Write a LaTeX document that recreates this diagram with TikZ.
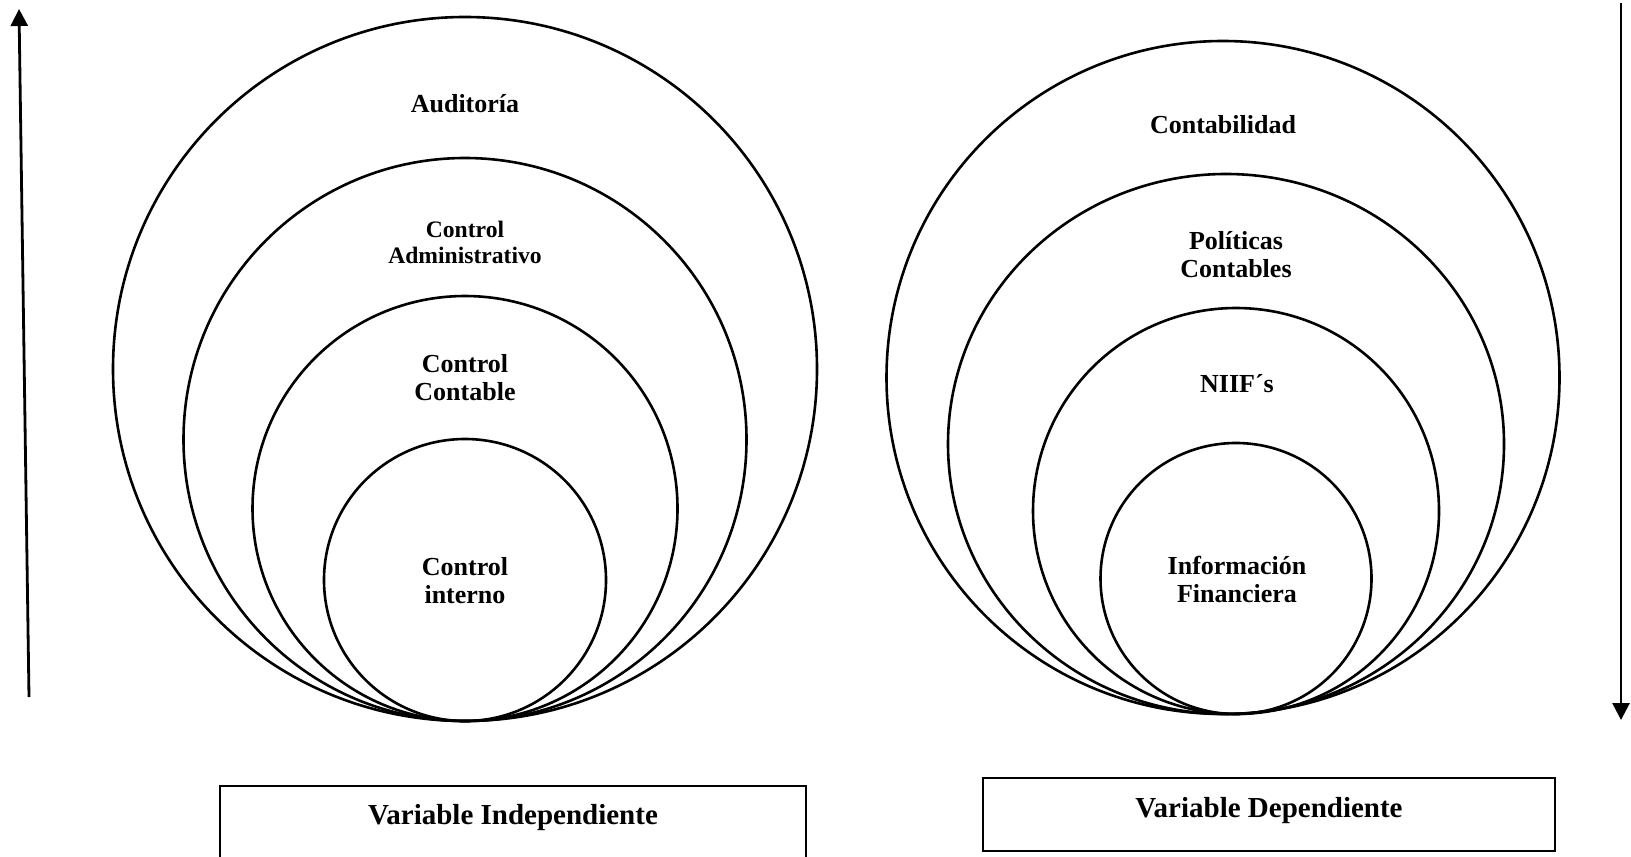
\documentclass[tikz,border=0pt]{standalone}
\usepackage{fontspec}
\setmainfont{Liberation Serif}
\usetikzlibrary{arrows.meta}
\tikzset{
  ring/.style={line width=1.3pt},
  tag/.style={font=\bfseries\fontsize{13}{14}\selectfont, align=center, inner sep=0pt},
  smalltag/.style={tag, font=\bfseries\fontsize{11.8}{13}\selectfont},
  varbox/.style={draw, line width=1.4pt, minimum height=36.5pt, inner sep=0pt},
  vartext/.style={font=\bfseries\fontsize{14.5}{16}\selectfont, inner sep=0pt},
  flow/.style={line width=1.4pt, -{Triangle[width=8.5pt,length=8.5pt]}}
}
\begin{document}
\begin{tikzpicture}[x=0.5pt, y=-0.5pt]
  \useasboundingbox (0,0) rectangle (1631,856);

  % variable independiente
  \draw[ring] (465,369) circle (352);
  \draw[ring] (465,439.5) circle (281.5);
  \draw[ring] (465,508.5) circle (212.5);
  \draw[ring] (465,580) circle (141);
  \node[tag] (audit) at (465,104) {Auditoría};
  \node[smalltag] (admin) at (465,242) {Control\\Administrativo};
  \node[tag] (contab) at (465,378) {Control\\Contable};
  \node[tag] (intern) at (465,581) {Control\\interno};

  % variable dependiente
  \draw[ring] (1223,377.5) circle (336.5);
  \draw[ring] (1226,444) ellipse (278 and 270);
  \draw[ring] (1236,511) circle (203);
  \draw[ring] (1236,578.5) circle (135.5);
  \node[tag] (conta) at (1223,125) {Contabilidad};
  \node[tag] (polit) at (1236,255) {Políticas\\Contables};
  \node[tag] (niif) at (1237,384) {NIIF´s};
  \node[tag] (finan) at (1237,579) {Información\\Financiera};

  % flechas
  \coordinate (lowL) at (29,697);
  \coordinate (topL) at (19,9);
  \draw[flow] (lowL) -- (topL);
  \coordinate (topR) at (1621,3);
  \coordinate (lowR) at (1621,720);
  \draw[flow] (topR) -- (lowR);

  % cuadros
  \node[varbox, minimum width=293pt] (indepbox) at (513,822.5) {};
  \node[vartext] (indep) at (513,818) {Variable Independiente};
  \node[varbox, minimum width=286pt] (depbox) at (1269,814.5) {};
  \node[vartext] (dep) at (1269,811) {Variable Dependiente};
\end{tikzpicture}
\end{document}
